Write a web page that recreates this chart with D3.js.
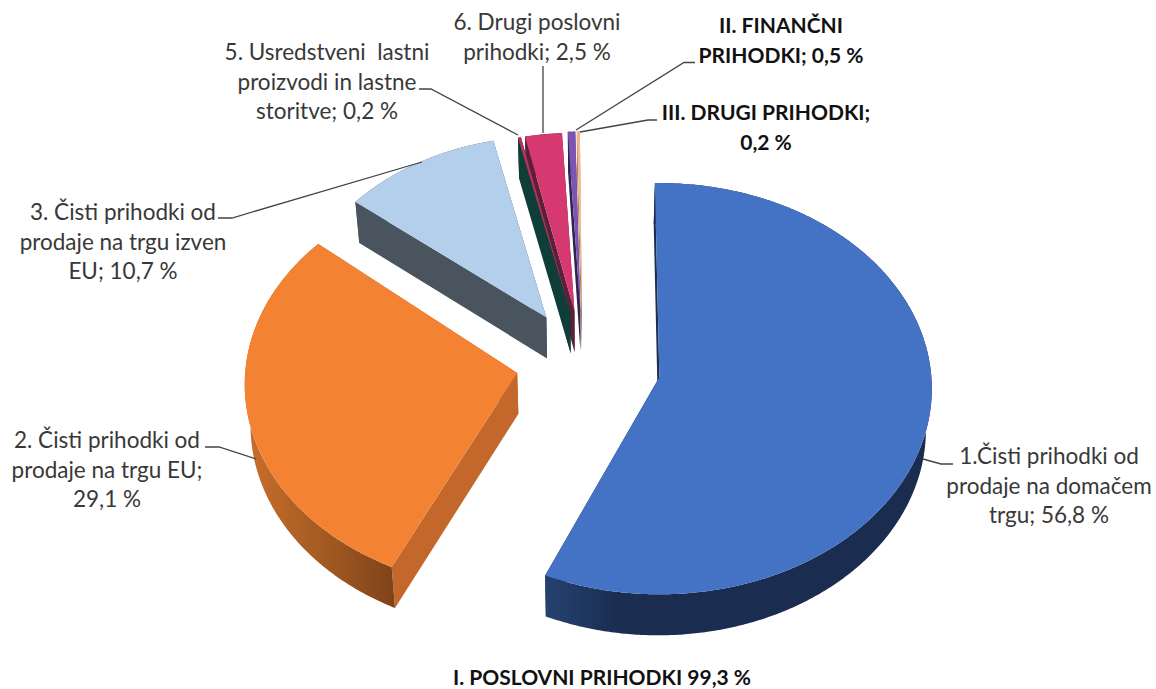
<!DOCTYPE html>
<html><head><meta charset="utf-8">
<script src="https://cdn.jsdelivr.net/npm/d3@7/dist/d3.min.js"></script>
<style>html,body{margin:0;padding:0;background:#fff}svg{display:block}</style>
</head><body><div id="c"></div>
<script>
// ---- data
const categories = ["1.Čisti prihodki od prodaje na domačem trgu","2. Čisti prihodki od prodaje na trgu EU","3. Čisti prihodki od prodaje na trgu izven EU","5. Usredstveni lastni proizvodi in lastne storitve","6. Drugi poslovni prihodki","II. FINANČNI PRIHODKI","III. DRUGI PRIHODKI"];
const values = [56.8, 29.1, 10.7, 0.2, 2.5, 0.5, 0.2];
const labelLines = [
  ["1.Čisti prihodki od","prodaje na domačem","trgu; 56,8 %"],
  ["2. Čisti prihodki od","prodaje na trgu EU;","29,1 %"],
  ["3. Čisti prihodki od","prodaje na trgu izven","EU; 10,7 %"],
  ["5. Usredstveni  lastni","proizvodi in lastne","storitve; 0,2 %"],
  ["6. Drugi poslovni","prihodki; 2,5 %"],
  ["II. FINANČNI","PRIHODKI; 0,5 %"],
  ["III. DRUGI PRIHODKI;","0,2 %"]
];
const footer = "I. POSLOVNI PRIHODKI 99,3 %";

// ---- styling / layout
const W = 1156, H = 689;
const topColors  = ["#4472c4","#f38233","#b4cfeb","#b8305c","#d6396f","#7a55b3","#f6b78a"];
const wallColors = ["#1b2d50","#c4672a","#4a545e","#0f3d38","#5c1f3a","#2f2350","#b07a58"];
const labelAnchor = [[1049,464],[107,448],[123,220],[327,60],[537,30],[781,33],[766,120]];
const labelBold = [false,false,false,false,false,true,true];
const leaders = [
  [[923,459],[941,464],[953,464]],
  [[205,447],[219,447],[256,459]],
  [[218,218],[232,218],[422,162]],
  [[419,89],[431,89],[518,135]],
  [[543,66],[543,133]],
  [[695,62.5],[684,62.5],[576,130]],
  [[657,120],[648,120],[580,132]]
];
const nudge = [[2,0],[2,-6],[-1,-2],[0,0],[-2,0],[-3,-1],[-3,-1]];
const turnDeg = [-0.5,2,0,0,0,0,0];
const Cx = 586, Cy = 366, A = 272, B = 205, K = 0.056, EXPLODE = 0.268;
const DEPTH = 41, SHRINK = 0.983, ROT = -0.5 * Math.PI / 180;

const svg = d3.select("#c").append("svg").attr("width",W).attr("height",H);
const defs = svg.append("defs");
function grad(id,x1,x2,stops){
  const g = defs.append("linearGradient").attr("id",id).attr("gradientUnits","userSpaceOnUse")
    .attr("x1",x1).attr("x2",x2).attr("y1",0).attr("y2",0);
  stops.forEach(s=>g.append("stop").attr("offset",s[0]).attr("stop-color",s[1]));
}
grad("wallBlue",546,660,[[0,"#24426f"],[0.6,"#1b2e52"],[1,"#1a2c4f"]]);
grad("wallOrange",253,396,[[0,"#c56c2b"],[0.5,"#a35a22"],[1,"#7e4218"]]);

const pie = d3.pie().sort(null).value(d=>d).startAngle(ROT).endAngle(2*Math.PI+ROT);
const arcs = pie(values);

function project(u,v,s,ax,ay){
  const w = 1 - K*v;
  return [ax + s*A*u/w, ay + s*B*v/w];
}
function sliceGeom(d,i){
  const mid = (d.startAngle+d.endAngle)/2;
  const eu = EXPLODE*Math.sin(mid), ev = -EXPLODE*Math.cos(mid);
  const s = Math.min(1, 1+0.3*ev);
  const ax = Cx + A*eu + nudge[i][0], ay = Cy + B*ev + nudge[i][1];
  const turn = turnDeg[i]*Math.PI/180;
  const n = Math.max(2, Math.ceil((d.endAngle-d.startAngle)/(Math.PI/360)));
  const rim = d3.range(n+1).map(k=>{
    const t = d.startAngle + turn + (d.endAngle-d.startAngle)*k/n;
    return project(Math.sin(t),-Math.cos(t),s,ax,ay);
  });
  return {apex:[ax,ay],rim};
}
const lower = p => [Cx + (p[0]-Cx)*SHRINK, p[1]+DEPTH];
const line = d3.line().x(p=>p[0]).y(p=>p[1]);
const closed = pts => line(pts)+"Z";

const geoms = arcs.map(sliceGeom);
const order = [6,5,4,3,2,1,0];
const gPie = svg.append("g");
order.forEach(i=>{
  const g = geoms[i], rim = g.rim, a = g.apex;
  const wall = i===0 ? "url(#wallBlue)" : i===1 ? "url(#wallOrange)" : wallColors[i];
  // radial walls
  const first = rim[0], last = rim[rim.length-1];
  gPie.append("path").attr("d",closed([a,last,lower(last),lower(a)])).attr("fill",wallColors[i]);
  gPie.append("path").attr("d",closed([a,first,lower(first),lower(a)])).attr("fill",wallColors[i]);
  // outer wall
  gPie.append("path").attr("d",closed(rim.concat(rim.map(lower).reverse()))).attr("fill",wall);
  // top
  gPie.append("path").attr("d",closed([a].concat(rim))).attr("fill",topColors[i]);
});

// leaders
const gL = svg.append("g");
leaders.forEach(pts=>gL.append("path").attr("d",line(pts)).attr("fill","none").attr("stroke","#444").attr("stroke-width",1.3));

// labels
const LINE = 29.6;
labelLines.forEach((lines,i)=>{
  const t = svg.append("text").attr("text-anchor","middle")
    .attr("font-family","Lato, Carlito, sans-serif").attr("font-size",labelBold[i]?21:22.5)
    .attr("font-weight",labelBold[i]?700:400).attr("fill",labelBold[i]?"#111":"#383838");
  lines.forEach((l,k)=>t.append("tspan").attr("x",labelAnchor[i][0]).attr("y",labelAnchor[i][1]+k*LINE).attr("xml:space","preserve").text(l));
});
svg.append("text").attr("text-anchor","middle").attr("x",602).attr("y",685)
  .attr("font-family","Lato, Carlito, sans-serif").attr("font-size",21).attr("font-weight",700).attr("fill","#111").text(footer);
</script></body></html>
